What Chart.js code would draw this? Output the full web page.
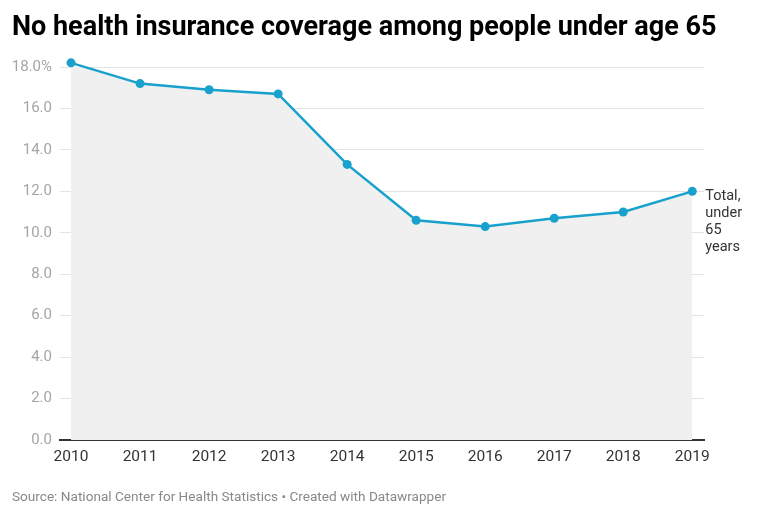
<!DOCTYPE html>
<html>
<head>
<meta charset="utf-8">
<script src="https://cdn.jsdelivr.net/npm/chart.js@4"></script>
<style>
  body { margin: 0; background: #fff; font-family: Roboto, sans-serif; }
  #wrap { position: relative; width: 766px; height: 519px; }
  #title { position: absolute; left: 12px; top: 10px; font-size: 27px; font-weight: bold; color: #000; white-space: nowrap; }
  #source { position: absolute; left: 12px; top: 488px; font-size: 13.6px; color: #888; white-space: nowrap; }
  #box { position: absolute; left: 0; top: 0; width: 766px; height: 519px; }
</style>
</head>
<body>
<div id="wrap">
  <div id="box"><canvas id="chart"></canvas></div>
  <div id="title">No health insurance coverage among people under age 65</div>
  <div id="source">Source: National Center for Health Statistics • Created with Datawrapper</div>
</div>
<script>
const years = [2010, 2011, 2012, 2013, 2014, 2015, 2016, 2017, 2018, 2019];
const uninsured = [18.2, 17.2, 16.9, 16.7, 13.3, 10.6, 10.3, 10.7, 11.0, 12.0];
const seriesLabel = ['Total,', 'under', '65', 'years'];

// label at the end of the line
const endLabel = {
  id: 'endLabel',
  afterDatasetsDraw(chart) {
    const meta = chart.getDatasetMeta(0);
    const last = meta.data[meta.data.length - 1];
    const ctx = chart.ctx;
    ctx.save();
    ctx.font = '14.5px Roboto';
    ctx.fillStyle = '#333';
    ctx.textBaseline = 'middle';
    seriesLabel.forEach((t, i) => ctx.fillText(t, last.x + 13, last.y + 5 + i * 17));
    ctx.restore();
  }
};

new Chart(document.getElementById('chart'), {
  type: 'line',
  data: {
    datasets: [{
      data: years.map((y, i) => ({ x: y, y: uninsured[i] })),
      borderColor: '#18a1cd',
      backgroundColor: '#f0f0f0',
      fill: 'origin',
      borderWidth: 2.5,
      pointRadius: 4.5,
      pointBackgroundColor: '#18a1cd',
      pointBorderWidth: 0,
      tension: 0,
      clip: false
    }]
  },
  options: {
    responsive: true,
    maintainAspectRatio: false,
    animation: false,
    layout: { padding: { left: 10, right: 62, top: 67, bottom: 49 } },
    plugins: { legend: { display: false }, tooltip: { enabled: false } },
    scales: {
      x: {
        type: 'linear',
        min: 2009.84,
        max: 2019.17,
        afterBuildTicks: (s) => { s.ticks = years.map(v => ({ value: v })); },
        afterFit: (s) => { s.height = 30; },
        grid: { display: false, drawTicks: false },
        border: { display: true, color: '#333', width: 2 },
        ticks: { color: '#333', font: { family: 'Roboto', size: 15.5 }, padding: 8, callback: (v) => String(v), maxRotation: 0 }
      },
      y: {
        min: 0,
        max: 18,
        afterFit: (s) => { s.width = 50; },
        grid: { color: '#e3e3e3', drawTicks: false },
        border: { display: false },
        ticks: {
          stepSize: 2,
          color: '#a5a5a5',
          padding: 8,
          font: { family: 'Roboto', size: 15 },
          callback: (v) => v === 18 ? '18.0%' : v.toFixed(1)
        }
      }
    }
  },
  plugins: [endLabel]
});
</script>
</body>
</html>
